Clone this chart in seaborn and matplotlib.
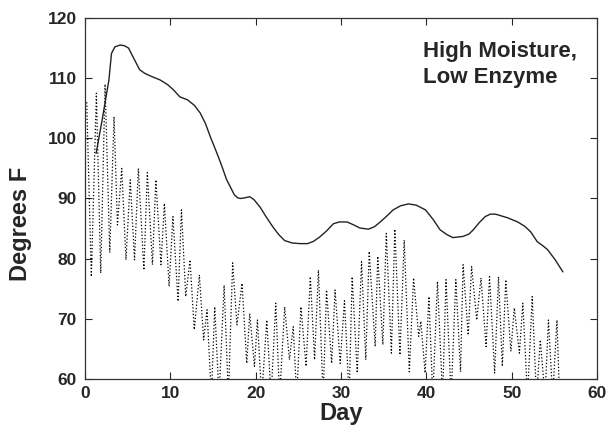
import numpy as np
import pandas as pd
import matplotlib
matplotlib.use("Agg")
import matplotlib.pyplot as plt
import seaborn as sns

# compost (pile) temperature - solid line
pile_day = [1.3, 2.0, 2.8, 3.1, 3.5, 4.1, 4.6, 5.1, 5.6, 6.4, 7.0, 7.6, 8.8, 9.7, 10.4,
            11.1, 12.0, 12.8, 13.5, 14.1, 14.7, 15.1, 15.6, 16.0, 16.6, 17.0, 17.5,
            17.9, 18.2, 18.7, 19.3, 19.8, 20.5, 21.2, 22.0, 22.7, 23.4, 24.3, 25.2,
            26.1, 26.8, 27.5, 28.3, 29.1, 29.8, 30.7, 31.5, 32.2, 33.2, 33.9, 34.6,
            35.3, 36.1, 37.0, 37.9, 38.8, 39.9, 40.8, 41.6, 42.4, 43.1, 44.3, 45.0,
            45.5, 46.2, 46.9, 47.5, 48.1, 49.5, 50.7, 51.5, 52.2, 53.0, 53.6, 54.2,
            55.1, 56.0]
pile_temp = [97.5, 103.0, 109.7, 114.1, 115.2, 115.5, 115.4, 115.0, 113.6, 111.4,
             110.8, 110.4, 109.7, 108.9, 108.0, 106.9, 106.4, 105.5, 104.2, 102.5,
             100.2, 98.8, 97.0, 95.5, 93.1, 92.0, 90.6, 90.1, 90.0, 90.1, 90.3, 89.8,
             88.6, 87.0, 85.3, 84.0, 83.0, 82.6, 82.5, 82.5, 82.9, 83.6, 84.6, 85.8,
             86.1, 86.1, 85.6, 85.1, 84.9, 85.3, 86.1, 87.0, 88.1, 88.8, 89.1, 88.9,
             88.1, 86.5, 84.8, 84.0, 83.5, 83.7, 84.1, 84.8, 86.0, 87.0, 87.4, 87.4,
             86.8, 86.1, 85.4, 84.5, 82.8, 82.2, 81.5, 79.8, 77.8]

# ambient temperature - dotted line (daily highs / lows)
amb_day = [0.2, 0.74, 1.33, 1.84, 2.35, 2.9, 3.4, 3.8, 4.3, 4.8, 5.3, 5.8, 6.25, 6.9,
           7.3, 7.9, 8.3, 8.9, 9.3, 9.85, 10.3, 10.9, 11.3, 11.8, 12.3, 12.8, 13.4,
           13.9, 14.3, 14.8, 15.2, 15.7, 16.3, 16.8, 17.3, 17.8, 18.4, 18.95, 19.3,
           19.85, 20.2, 20.7, 21.3, 21.8, 22.35, 22.8, 23.4, 23.95, 24.4, 24.8, 25.3,
           25.9, 26.4, 26.9, 27.35, 27.9, 28.3, 28.9, 29.3, 29.9, 30.4, 30.95, 31.3,
           31.9, 32.4, 32.9, 33.3, 34.0, 34.3, 34.9, 35.3, 35.9, 36.3, 36.9, 37.4,
           38.0, 38.5, 39.1, 39.35, 39.85, 40.3, 40.75, 41.3, 41.9, 42.3, 42.9, 43.45,
           44.0, 44.3, 44.9, 45.3, 45.9, 46.4, 47.0, 47.4, 48.0, 48.45, 48.9, 49.3,
           49.9, 50.3, 50.9, 51.3, 51.85, 52.4, 52.9, 53.35, 53.9, 54.3, 54.8, 55.3,
           55.6]
amb_temp = [106, 77, 107.5, 77.6, 109, 81, 103.6, 85.6, 95, 79.8, 93.1, 79.8, 95, 78.1,
            94.3, 79, 93.1, 79, 89.2, 75.4, 87, 72.9, 88.1, 73.7, 79.8, 68.2, 77.3,
            66.5, 71.5, 57, 72, 57, 75.6, 57, 79.3, 69, 75.9, 62.6, 70.9,
            62.1, 69.8, 57, 69.8, 57, 72.6, 57, 72, 63.2, 68.7, 57, 72,
            62.1, 77, 63.2, 78.1, 57, 74.8, 62.6, 74.8, 62.6, 73, 57, 77,
            61, 79.5, 63.2, 81.2, 65.4, 80.4, 65.7, 84.2, 64.3, 84.9, 64, 83.1,
            61.2, 76.8, 67.1, 69.6, 61, 73.7, 57, 76.2, 57, 76.5, 57, 76.5,
            61.2, 79, 67.3, 78.7, 69.8, 76.8, 65.4, 77, 61, 77, 62.1, 76.5,
            64.6, 71.8, 64.3, 72.6, 57, 73.7, 57, 66.5, 57, 69.8, 57, 69.8,
            57]

x_ticks = [0, 10, 20, 30, 40, 50, 60]
y_ticks = [60, 70, 80, 90, 100, 110, 120]

sns.set_style("ticks")
plt.rcParams['font.family'] = ['Liberation Sans', 'DejaVu Sans']
plt.rcParams['font.weight'] = 'bold'

fig = plt.figure(figsize=(6.13, 4.45), dpi=100)
ax = fig.add_axes([0.1387, 0.1483, 0.8353, 0.8113])

pile = pd.DataFrame({'day': pile_day, 'temp': pile_temp})
amb = pd.DataFrame({'day': amb_day, 'temp': amb_temp})

sns.lineplot(data=amb, x='day', y='temp', ax=ax, color='black', linestyle=':',
             linewidth=0.9, estimator=None, sort=False)
sns.lineplot(data=pile, x='day', y='temp', ax=ax, color='#222222', linewidth=1.0,
             estimator=None, sort=False)

ax.set_xlim(0, 60)
ax.set_ylim(60, 120)
ax.set_xticks(x_ticks)
ax.set_xticklabels([str(t) for t in x_ticks], fontsize=12.5, fontweight='bold')
ax.set_yticks(y_ticks)
ax.set_yticklabels([str(t) for t in y_ticks], fontsize=12.5, fontweight='bold')
ax.tick_params(axis='both', which='both', direction='in', length=5, width=0.8,
               top=True, right=True, pad=6)
ax.tick_params(axis='x', pad=5)
for sp in ax.spines.values():
    sp.set_visible(True)
    sp.set_linewidth(0.9)
    sp.set_color('#333333')

ax.set_xlabel('Day', fontsize=17, fontweight='bold', labelpad=1)
ax.set_ylabel('Degrees F', fontsize=17, fontweight='bold')
ax.yaxis.set_label_coords(-0.103, 0.43)

ax.text(0.66, 0.935, 'High Moisture,\nLow Enzyme', transform=ax.transAxes,
        fontsize=16, fontweight='bold', ha='left', va='top', linespacing=1.3)

fig.savefig('out.png', dpi=100)
